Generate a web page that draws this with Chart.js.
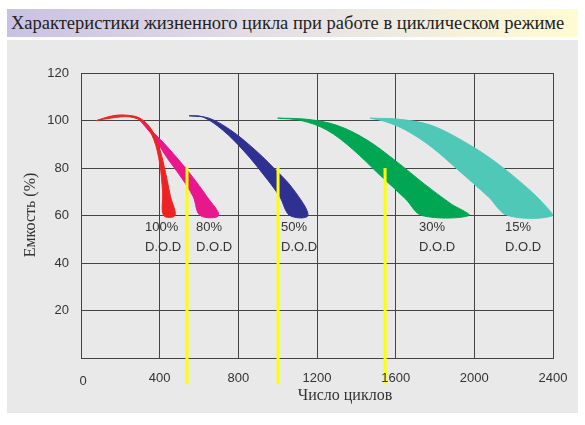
<!DOCTYPE html>
<html><head><meta charset="utf-8">
<script src="https://cdn.jsdelivr.net/npm/chart.js@4/dist/chart.umd.min.js"></script>
<style>
body{margin:0;width:585px;height:425px;background:#fff;position:relative;overflow:hidden}
#title{position:absolute;left:7px;top:9px;width:571px;height:28px;background:linear-gradient(90deg,#c9c1e3,#e6e1e6 50%,#fffcd2);font-family:"Liberation Serif",serif;font-size:18.5px;color:#222;line-height:28px;padding-left:4px;box-sizing:border-box}
#panel{position:absolute;left:7px;top:40px;width:571px;height:373px;background:#e9e9e9}
#wrap{position:absolute;left:0;top:0;width:585px;height:425px}
</style></head><body>
<div id="title">Характеристики жизненного цикла при работе в циклическом режиме</div>
<div id="panel"></div>
<div id="wrap"><canvas id="c" width="585" height="425"></canvas></div>
<script>
const xTicks=[0,400,800,1200,1600,2000,2400];
const yTicks=[0,20,40,60,80,100,120];
const yTickLabels=["","20","40","60","80","100","120"];
const bandNames=["100%","80%","50%","30%","15%"];
const bandColors=["#ee2222","#e8178c","#2e3192","#00a651","#4fc8b8"];
const bandX=[
 [80,150,220,300,360,400,430,455,478,420,415,400,370,320,250,150,80],
 [300,380,470,560,640,700,606,570,510,440,370,300],
 [550,650,760,880,980,1080,1154,1062,1010,930,830,720,620,550],
 [1000,1150,1300,1450,1600,1750,1880,1973,1734,1650,1520,1380,1250,1120,1000],
 [1470,1620,1780,1950,2100,2250,2340,2400,2170,2070,1920,1780,1650,1550,1470]
];
const bandY=[
 [100,101.8,102.3,101,96,88,78,68,60,60,70,82,92,99,101.5,101,100],
 [100,94,86,77,68,60,60,68,76,84,93,100],
 [102,101,96,88,80,71,60,60,68,77,87,96,101.5,102],
 [101,100.5,98,92,83,73,65,60,60,67,77,88,96,100,101],
 [101,100.5,98,91,83,73,66,60,60,68,79,89,96,99.5,101]
];
const labelX=[326,585,1017,1719,2156];
const labelY1=55, labelY2=46.5;
const yellowX=[539,1002,1546];
const yellowTop=80, yellowBottom=-11;

const datasets=[];
yellowX.forEach(x=>datasets.push({data:[{x:x,y:yellowTop},{x:x,y:yellowBottom}],showLine:true,borderColor:"#ffff00",borderWidth:3,pointRadius:0,clip:false,order:0}));
bandX.forEach((xs,i)=>datasets.push({data:xs.map((x,j)=>({x:x,y:bandY[i][j]})),showLine:true,borderColor:bandColors[i],backgroundColor:bandColors[i],borderWidth:1,pointRadius:0,tension:0.35,fill:'shape',order:1}));

const deco={id:'deco',afterDraw(ch){
 const c=ch.ctx,xs=ch.scales.x,ys=ch.scales.y;
 c.save();c.fillStyle="#333";c.font="13px 'Liberation Sans',Arial";c.textBaseline="middle";
 c.textAlign="left";
 bandNames.forEach((n,i)=>{const px=xs.getPixelForValue(labelX[i]);
  c.fillText(n,px,ys.getPixelForValue(labelY1));c.fillText("D.O.D",px,ys.getPixelForValue(labelY2));});
 c.textAlign="right";
 yTicks.forEach((v,i)=>c.fillText(yTickLabels[i],69,ys.getPixelForValue(v)));
 c.textAlign="center";
 xTicks.forEach(v=>c.fillText(String(v),xs.getPixelForValue(v)+(v===0?2:0),v===0?381:378));
 c.font="16px 'Liberation Serif',serif";
 c.fillText("Число циклов",345,396);
 c.translate(31,215);c.rotate(-Math.PI/2);c.fillText("Емкость (%)",0,0);
 c.restore();
}};

new Chart(document.getElementById('c'),{type:'scatter',data:{datasets},
 options:{responsive:false,animation:false,events:[],
  layout:{padding:{left:81,right:32,top:73,bottom:67}},
  plugins:{legend:{display:false},tooltip:{enabled:false}},
  scales:{
   x:{type:'linear',min:0,max:2400,afterFit:s=>{s.height=0},
      afterBuildTicks:s=>{s.ticks=xTicks.map(v=>({value:v}))},
      grid:{color:"#444",drawTicks:false},border:{color:"#444"},ticks:{display:false}},
   y:{type:'linear',min:0,max:120,afterFit:s=>{s.width=0},
      afterBuildTicks:s=>{s.ticks=yTicks.map(v=>({value:v}))},
      grid:{color:"#444",drawTicks:false},border:{color:"#444"},ticks:{display:false}}
  }},plugins:[deco]});
</script></body></html>
